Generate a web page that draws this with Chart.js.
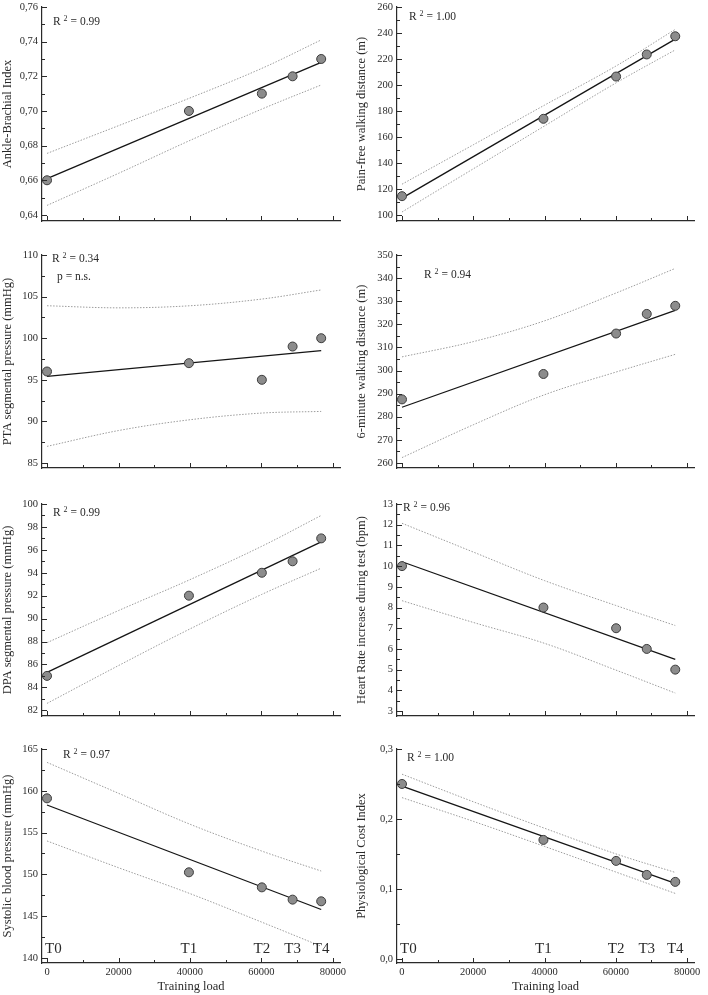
<!DOCTYPE html>
<html>
<head>
<meta charset="utf-8">
<script src="https://cdn.jsdelivr.net/npm/chart.js@4.4.1/dist/chart.umd.min.js"></script>
<style>
  html, body { margin: 0; padding: 0; background: #fff; }
  body { width: 708px; height: 995px; position: relative; overflow: hidden; }
  .panel { position: absolute; }
</style>
</head>
<body>
<script>
// shared x data
const trainingLoad = [0, 39700, 60100, 68700, 76700];
const phaseLabels = ["T0", "T1", "T2", "T3", "T4"];
const fitLoad = [0, 76700];
const bandLoad = [0, 20000, 40000, 60000, 76700];
const loadTicks = [0, 20000, 40000, 60000, 80000];

// Ankle-Brachial Index
const abiValues = [0.66, 0.70, 0.71, 0.72, 0.73];
const abiFit = [0.661, 0.728];
const abiUpper = [0.6755, 0.6915, 0.7075, 0.7245, 0.741];
const abiLower = [0.6455, 0.664, 0.683, 0.701, 0.715];
const abiTicks = [0.64, 0.66, 0.68, 0.70, 0.72, 0.74, 0.76];

// Pain-free walking distance
const pfwdValues = [114.5, 174, 206.5, 223.5, 237.5];
const pfwdFit = [113, 235.3];
const pfwdUpper = [123.7, 154, 184.5, 214.5, 242.8];
const pfwdLower = [102.3, 135.5, 168.5, 201.5, 227];
const pfwdTicks = [100, 120, 140, 160, 180, 200, 220, 240, 260];

// PTA segmental pressure
const ptaValues = [96, 97, 95, 99, 100];
const ptaFit = [95.4, 98.5];
const ptaUpper = [103.9, 103.65, 103.9, 104.7, 105.8];
const ptaLower = [87.0, 88.9, 90.2, 91.0, 91.2];
const ptaTicks = [85, 90, 95, 100, 105, 110];

// 6-minute walking distance
const sixMinValues = [287.5, 298.5, 316, 324.5, 328];
const sixMinFit = [284.1, 326];
const sixMinUpper = [305.9, 312.5, 321.5, 333.5, 344.2];
const sixMinLower = [262.3, 276.5, 289.5, 299.3, 307];
const sixMinTicks = [260, 270, 280, 290, 300, 310, 320, 330, 340, 350];

// DPA segmental pressure
const dpaValues = [85, 92, 94, 95, 97];
const dpaFit = [85.3, 96.7];
const dpaUpper = [87.9, 90.7, 93.4, 96.3, 99.0];
const dpaLower = [82.6, 85.9, 89.1, 92.1, 94.4];
const dpaTicks = [82, 84, 86, 88, 90, 92, 94, 96, 98, 100];

// Heart rate increase
const hrValues = [10, 8, 7, 6, 5];
const hrFit = [10.21, 5.5];
const hrUpper = [12.07, 10.68, 9.3, 8.1, 7.13];
const hrLower = [8.33, 7.28, 6.27, 4.98, 3.87];
const hrTicks = [3, 4, 5, 6, 7, 8, 9, 10, 11, 12, 13];

// Systolic blood pressure
const sbpValues = [159.1, 150.25, 148.45, 146.98, 146.78];
const sbpFit = [158.3, 145.8];
const sbpUpper = [163.4, 159.7, 156.0, 152.8, 150.4];
const sbpLower = [154.0, 150.8, 147.7, 144.3, 141.4];
const sbpTicks = [140, 145, 150, 155, 160, 165];

// Physiological Cost Index
const pciValues = [0.25, 0.17, 0.14, 0.12, 0.11];
const pciFit = [0.247, 0.108];
const pciUpper = [0.264, 0.2246, 0.1867, 0.1501, 0.1235];
const pciLower = [0.2305, 0.1966, 0.1607, 0.1241, 0.0935];
const pciTicks = [0, 0.1, 0.2, 0.3];

const rSquared = ["0.99", "1.00", "0.34", "0.94", "0.99", "0.96", "0.97", "1.00"];

const FONT = '"Liberation Serif", "Times New Roman", serif';
const INK = "#2a2a2a";

const panels = [
  { title: "Ankle-Brachial Index", values: abiValues, fit: abiFit, upper: abiUpper, lower: abiLower, ticks: abiTicks, yMin: 0.6365, dec: 2, comma: true, rPos: [11, 15] },
  { title: "Pain-free walking distance (m)", values: pfwdValues, fit: pfwdFit, upper: pfwdUpper, lower: pfwdLower, ticks: pfwdTicks, yMin: 95.4, dec: 0, rPos: [12, 10] },
  { title: "PTA segmental pressure (mmHg)", values: ptaValues, fit: ptaFit, upper: ptaUpper, lower: ptaLower, ticks: ptaTicks, yMin: 84.4, dec: 0, rPos: [10, 4], note: "p = n.s." },
  { title: "6-minute walking distance (m)", values: sixMinValues, fit: sixMinFit, upper: sixMinUpper, lower: sixMinLower, ticks: sixMinTicks, yMin: 257.8, dec: 0, rPos: [27, 20] },
  { title: "DPA segmental pressure (mmHg)", values: dpaValues, fit: dpaFit, upper: dpaUpper, lower: dpaLower, ticks: dpaTicks, yMin: 81.5, dec: 0, rPos: [11, 9] },
  { title: "Heart Rate increase during test (bpm)", values: hrValues, fit: hrFit, upper: hrUpper, lower: hrLower, ticks: hrTicks, yMin: 2.76, dec: 0, rPos: [6, 4] },
  { title: "Systolic blood pressure (mmHg)", values: sbpValues, fit: sbpFit, upper: sbpUpper, lower: sbpLower, ticks: sbpTicks, yMin: 139.4, dec: 0, rPos: [21, 6] },
  { title: "Physiological Cost Index", values: pciValues, fit: pciFit, upper: pciUpper, lower: pciLower, ticks: pciTicks, yMin: -0.006, dec: 1, comma: true, rPos: [10, 9] },
];

const rows = [
  { top: 7, bottom: 221 },
  { top: 255, bottom: 468 },
  { top: 504, bottom: 716 },
  { top: 749, bottom: 963 },
];
const cols = [{ left: 0, yw: 42 }, { left: 354, yw: 43 }];
const PAD_TOP = 12;

function fmt(v, p) {
  const s = v.toFixed(p.dec);
  return p.comma ? s.replace(".", ",") : s;
}

function toPoints(xs, ys) {
  return xs.map((x, i) => ({ x: x, y: ys[i] }));
}

function strokeLine(ctx, x1, y1, x2, y2) {
  ctx.beginPath();
  ctx.moveTo(x1, y1);
  ctx.lineTo(x2, y2);
  ctx.stroke();
}

function makeDecor(p, idx, isBottom) {
  return {
    id: "decor" + idx,
    afterDraw(chart) {
      const { ctx, chartArea: a, scales: { x, y } } = chart;
      ctx.save();
      ctx.strokeStyle = INK;
      ctx.lineWidth = 1;
      // inward ticks on y
      p.ticks.forEach((v, i) => {
        const py = Math.round(y.getPixelForValue(v)) + 0.5;
        strokeLine(ctx, a.left, py, a.left + 5, py);
        if (i < p.ticks.length - 1) {
          const my = Math.round(y.getPixelForValue((v + p.ticks[i + 1]) / 2)) + 0.5;
          strokeLine(ctx, a.left, my, a.left + 3, my);
        }
      });
      // inward ticks on x
      loadTicks.forEach((v, i) => {
        const px = Math.round(x.getPixelForValue(v)) + 0.5;
        strokeLine(ctx, px, a.bottom, px, a.bottom - 5);
        if (i < loadTicks.length - 1) {
          const mx = Math.round(x.getPixelForValue((v + loadTicks[i + 1]) / 2)) + 0.5;
          strokeLine(ctx, mx, a.bottom, mx, a.bottom - 3);
        }
      });

      // R squared
      ctx.fillStyle = INK;
      ctx.textBaseline = "middle";
      ctx.textAlign = "left";
      let tx = a.left + p.rPos[0];
      const ty = a.top + p.rPos[1];
      ctx.font = "11.5px " + FONT;
      ctx.fillText("R", tx, ty);
      tx += ctx.measureText("R ").width;
      ctx.font = "8px " + FONT;
      ctx.fillText("2", tx, ty - 3);
      tx += ctx.measureText("2").width + 3;
      ctx.font = "11.5px " + FONT;
      ctx.fillText("= " + rSquared[idx], tx, ty);
      if (p.note) {
        ctx.fillText(p.note, a.left + p.rPos[0] + 5, ty + 18);
      }

      // phase labels
      if (isBottom) {
        ctx.font = "15px " + FONT;
        ctx.textBaseline = "alphabetic";
        trainingLoad.forEach((v, i) => {
          const px = x.getPixelForValue(v);
          ctx.textAlign = i === 0 ? "left" : "center";
          ctx.fillText(phaseLabels[i], i === 0 ? px - 2 : px, a.bottom - 10);
        });
      }
      ctx.restore();
    },
  };
}

panels.forEach((p, idx) => {
  const row = rows[Math.floor(idx / 2)];
  const col = cols[idx % 2];
  const isBottom = idx >= 6;
  const xh = isBottom ? 32 : 12;
  const h = row.bottom - row.top + PAD_TOP + xh;

  const div = document.createElement("div");
  div.className = "panel";
  div.style.left = col.left + "px";
  div.style.top = (row.top - PAD_TOP) + "px";
  div.style.width = "354px";
  div.style.height = h + "px";
  const canvas = document.createElement("canvas");
  canvas.width = 354;
  canvas.height = h;
  canvas.style.width = "354px";
  canvas.style.height = h + "px";
  div.appendChild(canvas);
  document.body.appendChild(div);

  new Chart(canvas, {
    type: "scatter",
    data: {
      datasets: [
        {
          label: "values",
          data: toPoints(trainingLoad, p.values),
          pointRadius: 4.5,
          pointBackgroundColor: "#8c8c8c",
          pointBorderColor: "#3c3c3c",
          pointBorderWidth: 1,
          order: 0,
        },
        {
          label: "fit",
          data: toPoints(fitLoad, p.fit),
          showLine: true,
          pointRadius: 0,
          borderColor: "#151515",
          borderWidth: 1.3,
          order: 1,
        },
        {
          label: "upper",
          data: toPoints(bandLoad, p.upper),
          showLine: true,
          pointRadius: 0,
          borderColor: "#9c9c9c",
          borderWidth: 1,
          borderDash: [1.5, 1.5],
          tension: 0.35,
          order: 2,
        },
        {
          label: "lower",
          data: toPoints(bandLoad, p.lower),
          showLine: true,
          pointRadius: 0,
          borderColor: "#9c9c9c",
          borderWidth: 1,
          borderDash: [1.5, 1.5],
          tension: 0.35,
          order: 2,
        },
      ],
    },
    options: {
      responsive: false,
      animation: false,
      clip: false,
      layout: { padding: { top: PAD_TOP, right: 14, left: 0, bottom: 0 } },
      plugins: {
        legend: { display: false },
        tooltip: { enabled: false },
      },
      scales: {
        x: {
          type: "linear",
          min: -1400,
          max: 81960,
          afterBuildTicks: (axis) => {
            axis.ticks = loadTicks.map((v) => ({ value: v }));
          },
          afterFit: (axis) => {
            axis.height = xh;
          },
          grid: { display: false, drawTicks: false },
          border: { display: true, color: INK, width: 1.2 },
          ticks: {
            display: isBottom,
            padding: 3,
            color: INK,
            maxRotation: 0,
            font: { family: FONT, size: 10.5 },
            callback: (v) => String(v),
          },
          title: {
            display: isBottom,
            text: "Training load",
            color: INK,
            padding: { top: 0, bottom: 1 },
            font: { family: FONT, size: 12.5 },
          },
        },
        y: {
          type: "linear",
          min: p.yMin,
          max: p.ticks[p.ticks.length - 1],
          afterBuildTicks: (axis) => {
            axis.ticks = p.ticks.map((v) => ({ value: v }));
          },
          afterFit: (axis) => {
            axis.width = col.yw;
          },
          grid: { display: false, drawTicks: false },
          border: { display: true, color: INK, width: 1.2 },
          ticks: {
            padding: 4,
            color: INK,
            font: { family: FONT, size: 10.5 },
            callback: (v) => fmt(v, p),
          },
          title: {
            display: true,
            text: p.title,
            color: INK,
            padding: { top: 0, bottom: 0 },
            font: { family: FONT, size: 12.5 },
          },
        },
      },
    },
    plugins: [makeDecor(p, idx, isBottom)],
  });
});
</script>
</body>
</html>
